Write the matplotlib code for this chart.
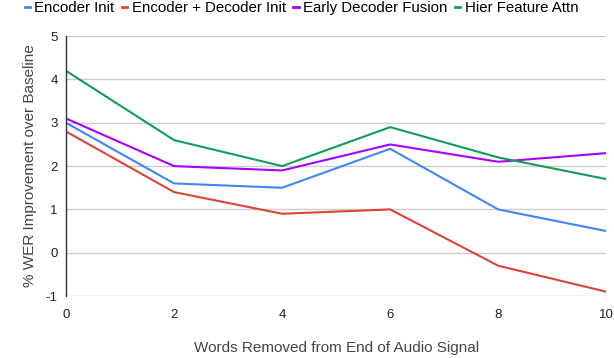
import numpy as np
import matplotlib.pyplot as plt
from matplotlib.lines import Line2D

plt.rcParams['font.family'] = ['Liberation Sans', 'DejaVu Sans']
plt.rcParams['axes.unicode_minus'] = False

# Data
words_removed = [0, 2, 4, 6, 8, 10]
encoder_init = [3.0, 1.6, 1.5, 2.4, 1.0, 0.5]
enc_dec_init = [2.8, 1.4, 0.9, 1.0, -0.3, -0.9]
early_dec_fusion = [3.1, 2.0, 1.9, 2.5, 2.1, 2.3]
hier_feat_attn = [4.2, 2.6, 2.0, 2.9, 2.2, 1.7]

series_names = ["Encoder Init", "Encoder + Decoder Init", "Early Decoder Fusion", "Hier Feature Attn"]
series_vals = [encoder_init, enc_dec_init, early_dec_fusion, hier_feat_attn]
colors = ["#4285F4", "#DB4437", "#AA00FF", "#0F9D58"]

fig = plt.figure(figsize=(6.14, 3.58), dpi=100)
ax = fig.add_axes([0.1075, 0.173, 0.88, 0.726])

for vals, c in zip(series_vals, colors):
    ax.plot(words_removed, vals, color=c, lw=1.5, solid_joinstyle='round')

ax.set_xlim(0, 10)
ax.set_ylim(-1, 5)
ax.set_xticks(words_removed)
ax.set_yticks(range(-1, 6))
ax.set_xticks([2], minor=True)
ax.grid(axis='y', color='#cccccc', lw=1)
ax.grid(axis='x', which='minor', color='#cccccc', lw=1)
ax.set_axisbelow(True)
for s in ['top', 'right', 'bottom']:
    ax.spines[s].set_visible(False)
ax.spines['left'].set_color('#333333')
ax.spines['left'].set_linewidth(1)
ax.tick_params(length=0, labelsize=9.5, colors='#222222')
ax.tick_params(axis='x', pad=9)
ax.tick_params(axis='y', pad=6)
ax.tick_params(axis='x', which='minor', length=0)

ax.set_xlabel("Words Removed from End of Audio Signal", fontsize=11, color='#444444', labelpad=15)
ax.set_ylabel("% WER Improvement over Baseline", fontsize=11, color='#444444', labelpad=6)

handles = [Line2D([], [], color=c, lw=2) for c in colors]
fig.legend(handles, series_names, loc='upper left', bbox_to_anchor=(0.018, 1.035), ncol=4,
           frameon=False, handlelength=0.35, handletextpad=0.3, columnspacing=0.5,
           fontsize=10.8)

fig.savefig("out.png", dpi=100)
